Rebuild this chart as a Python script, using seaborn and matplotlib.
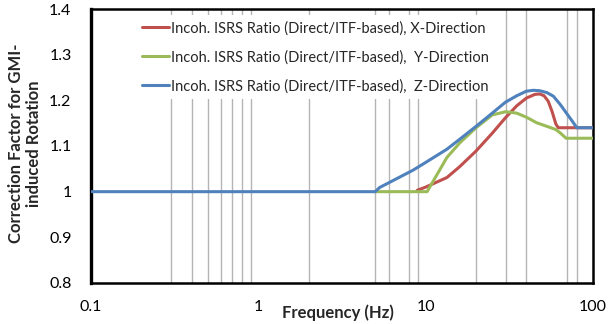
import pandas as pd
import matplotlib
matplotlib.use("Agg")
import matplotlib.pyplot as plt
import seaborn as sns
from matplotlib.ticker import FixedLocator, NullFormatter

# data
x_freq = [8.9, 10, 13.4, 16, 20, 25, 30, 35, 40, 45, 48, 51, 54, 57, 60, 62, 100]
x_ratio = [1.003, 1.010, 1.031, 1.055, 1.089, 1.128, 1.162, 1.188, 1.205, 1.213,
           1.214, 1.210, 1.198, 1.175, 1.148, 1.140, 1.140]

y_freq = [5, 10.2, 13.4, 16, 20, 25, 30, 35, 40, 46, 55, 60, 64, 69, 100]
y_ratio = [1.0, 1.0, 1.075, 1.107, 1.140, 1.168, 1.175, 1.172, 1.163, 1.151,
           1.141, 1.136, 1.128, 1.117, 1.117]

z_freq = [0.1, 5, 5.3, 8.4, 10, 13.4, 16, 20, 25, 30, 35, 40, 44, 48, 53, 58, 64,
          70, 75, 80, 100]
z_ratio = [1.0, 1.0, 1.009, 1.047, 1.064, 1.093, 1.115, 1.143, 1.172, 1.196,
           1.210, 1.220, 1.222, 1.221, 1.217, 1.209, 1.190, 1.170, 1.155, 1.140,
           1.140]

labels = ["Incoh. ISRS Ratio (Direct/ITF-based), X-Direction",
          "Incoh. ISRS Ratio (Direct/ITF-based),  Y-Direction",
          "Incoh. ISRS Ratio (Direct/ITF-based),  Z-Direction"]
colors = ["#C0504D", "#9BBB59", "#4F81BD"]

y_ticks = [0.8, 0.9, 1.0, 1.1, 1.2, 1.3, 1.4]
y_tick_labels = ["0.8", "0.9", "1", "1.1", "1.2", "1.3", "1.4"]
x_ticks = [0.1, 1, 10, 100]
x_tick_labels = ["0.1", "1", "10", "100"]
# only these grid lines show in the reference
x_grid = [0.3, 0.4, 0.5, 0.6, 0.7, 0.8, 0.9, 1, 2, 5, 6, 8, 9, 20, 30, 40, 70, 80]
y_grid = [1.0, 1.1, 1.2]

frames = []
for fr, rt, lab in zip([x_freq, y_freq, z_freq], [x_ratio, y_ratio, z_ratio], labels):
    frames.append(pd.DataFrame({"freq": fr, "ratio": rt, "series": lab}))
df = pd.concat(frames, ignore_index=True)

sns.set_style("white")
plt.rcParams["font.family"] = ["Lato", "DejaVu Sans"]

fig = plt.figure(figsize=(6.12, 3.24), dpi=100)
ax = fig.add_axes([91 / 612, 41 / 324, 502 / 612, 274 / 324])

sns.lineplot(data=df, x="freq", y="ratio", hue="series", palette=colors,
             hue_order=labels, sort=False, estimator=None, lw=2.2, ax=ax,
             zorder=3)

ax.set_xscale("log")
ax.set_xlim(0.1, 100)
ax.set_ylim(0.8, 1.4)
ax.xaxis.set_major_locator(FixedLocator(x_ticks))
ax.set_xticklabels(x_tick_labels)
ax.xaxis.set_minor_locator(FixedLocator(x_grid))
ax.xaxis.set_minor_formatter(NullFormatter())
ax.set_yticks(y_ticks)
ax.set_yticklabels(y_tick_labels)
ax.yaxis.set_minor_locator(FixedLocator(y_grid))
ax.tick_params(axis="both", which="major", direction="out", length=5, width=1,
               color="#808080", labelsize=11.5, labelcolor="black")
ax.tick_params(axis="x", which="major", pad=7)
ax.tick_params(axis="y", which="major", pad=9)
ax.tick_params(which="minor", length=0)
ax.set_axisbelow(True)
ax.grid(False, which="major")
ax.grid(True, which="minor", color="#B4B4B4", lw=1.0)

for sp in ax.spines.values():
    sp.set_color("black")
    sp.set_linewidth(1.8)
ax.spines["left"].set_linewidth(2.4)

ax.set_xlabel("Frequency (Hz)", fontsize=12, fontweight="bold")
ax.xaxis.label.set_va("center")
ax.xaxis.set_label_coords(0.492, -0.108)
ax.set_ylabel("Correction Factor for GMI-\ninduced Rotation", fontsize=12,
              fontweight="bold", linespacing=1.15)
ax.yaxis.label.set_va("center")
ax.yaxis.set_label_coords(-0.131, 0.51)

handles, _ = ax.get_legend_handles_labels()
leg = ax.legend(handles, labels, loc="upper left", bbox_to_anchor=(0.075, 1.004),
                fontsize=10.5, frameon=True, facecolor="white", edgecolor="none",
                framealpha=1, fancybox=False, handlelength=1.9, handletextpad=0.1,
                labelspacing=1.0, borderpad=0.4)

fig.savefig("out.png", dpi=100)
plt.close(fig)
